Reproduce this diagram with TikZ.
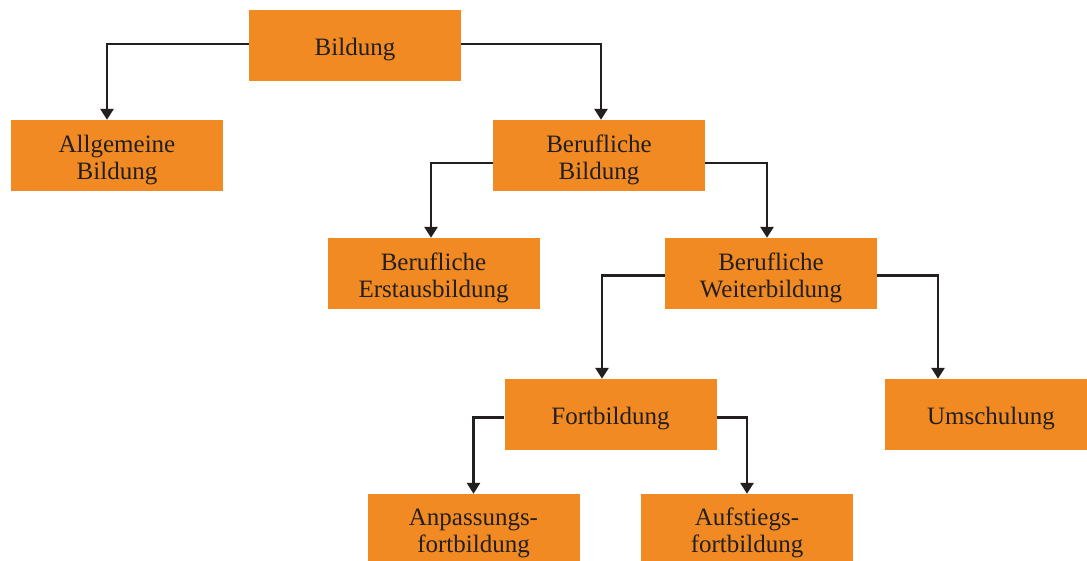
\documentclass[tikz,border=0pt]{standalone}
\usepackage{fontspec}
\setmainfont{Liberation Serif}
\usetikzlibrary{arrows.meta}
\definecolor{boxorange}{HTML}{F18A22}
\definecolor{linedark}{HTML}{231F20}
\newcommand{\boxtext}[1]{\raisebox{-5pt}[\height][\depth]{\begin{tabular}{@{}c@{}}#1\end{tabular}}}
\tikzset{
  box/.style={fill=boxorange, text=linedark, minimum width=212pt, minimum height=71pt,
    inner sep=0pt, font=\fontsize{25}{27}\selectfont},
  conn/.style={draw=linedark, line width=2.7pt, -{Triangle[width=13pt,length=11pt]}}
}
\begin{document}
\begin{tikzpicture}[x=1pt,y=-1pt]
\useasboundingbox[fill=white] (0,0) rectangle (1087,561);
\node[box] (bildung) at (355,45.5) {\raisebox{3pt}{\boxtext{Bildung}}};
\node[box] (allg) at (117,155.5) {\boxtext{Allgemeine\\Bildung}};
\node[box] (bb) at (599,155.5) {\boxtext{Berufliche\\Bildung}};
\node[box] (erst) at (433.5,273.5) {\boxtext{Berufliche\\Erstausbildung}};
\node[box] (weiter) at (771,273.5) {\boxtext{Berufliche\\Weiterbildung}};
\node[box] (fort) at (610.5,414.5) {\boxtext{Fortbildung}};
\node[box] (umsch) at (991,414.5) {\boxtext{Umschulung}};
\node[box, minimum height=70pt] (anp) at (473.5,529) {\boxtext{Anpassungs-\\fortbildung}};
\node[box, minimum height=70pt] (aufst) at (747,529) {\boxtext{Aufstiegs-\\fortbildung}};

\draw[conn] ([yshift=1.5pt]bildung.west) -| ([xshift=-10pt]allg.north);
\draw[conn] ([yshift=1.5pt]bildung.east) -| ([xshift=2pt]bb.north);
\draw[conn] ([yshift=-7.5pt]bb.west) -| ([xshift=-2.5pt]erst.north);
\draw[conn] ([yshift=-7.5pt]bb.east) -| ([xshift=-4pt]weiter.north);
\draw[conn] ([yshift=-2pt]weiter.west) -| ([xshift=-8.5pt]fort.north);
\draw[conn] ([yshift=-2pt]weiter.east) -| ([xshift=-53pt]umsch.north);
\draw[conn] ([yshift=-3pt]fort.west) -| (anp.north);
\draw[conn] ([yshift=-3pt]fort.east) -| (aufst.north);
\end{tikzpicture}
\end{document}
